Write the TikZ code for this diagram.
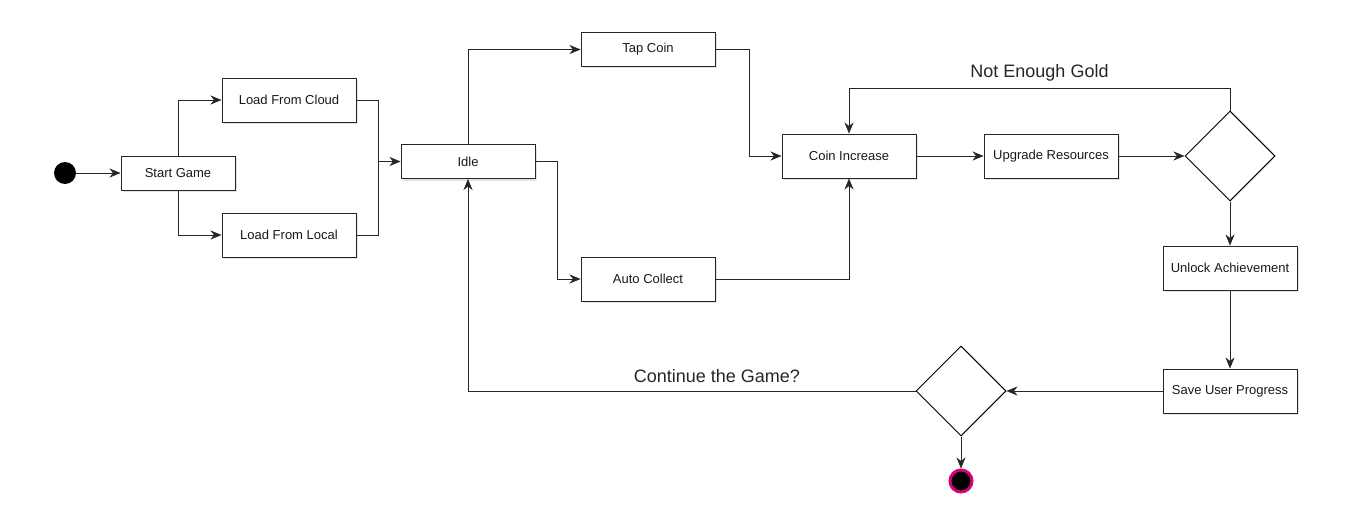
\documentclass[tikz,border=0pt]{standalone}
\usepackage{fontspec}
\setmainfont{Liberation Sans}
\usetikzlibrary{arrows.meta,shadows,shapes.geometric}
\definecolor{pinkb}{HTML}{D80073}
\begin{document}
\begin{tikzpicture}[x=1pt,y=-1pt,
  box/.style={draw=black!85, fill=white, line width=1pt, minimum width=134pt, minimum height=44pt, inner sep=0pt, font=\fontsize{13}{15}\selectfont, text=black!90, drop shadow={opacity=0.22, shadow xshift=2pt, shadow yshift=-2pt}},
  dia/.style={draw=black, fill=white, line width=1pt, diamond, minimum width=90pt, minimum height=90pt, inner sep=0pt},
  conn/.style={draw=black!85, line width=1pt, -{Stealth[length=11pt,width=9pt,inset=3.5pt,fill=black!85,line width=0.5pt]}},
  plain/.style={draw=black!85, line width=1pt},
  lbl/.style={font=\fontsize{18}{20}\selectfont, text=black!85}
]
\useasboundingbox (0,0) rectangle (1349,519);
\node[circle, fill=black, minimum size=22pt, inner sep=0pt] (start) at (65,173) {};
\node[box, minimum width=114pt, minimum height=34pt] (sg) at (178,173) {Start Game};
\node[box] (cloud) at (289,100) {Load From Cloud};
\node[box] (local) at (289,235) {Load From Local};
\node[box, minimum height=34pt] (idle) at (468,161.5) {Idle};
\node[box, minimum height=34pt] (tap) at (648,49.5) {Tap Coin};
\node[box] (auto) at (648,279) {Auto Collect};
\node[box] (coin) at (849,156) {Coin Increase};
\node[box] (upg) at (1051,156) {Upgrade Resources};
\node[dia] (d1) at (1230,156) {};
\node[box] (unlock) at (1230,268) {Unlock Achievement};
\node[box] (save) at (1230,391) {Save User Progress};
\node[dia] (d2) at (961,391) {};
\node[circle, fill=black, draw=pinkb, line width=3pt, minimum size=22pt, inner sep=0pt] (end) at (961,481) {};

\coordinate (j1) at (378,161.5);
\draw[conn] (start) -- (sg);
\draw[conn] (sg.north) |- (cloud.west);
\draw[conn] (sg.south) |- (local.west);
\draw[plain] (cloud.east) -| (j1);
\draw[plain] (local.east) -| (j1);
\draw[conn] (j1) -- (idle.west);
\draw[conn] (idle.north) |- (tap.west);
\draw[conn] (idle.east) -- ++(22,0) |- (auto.west);
\draw[conn] (tap.east) -- ++(34,0) |- (coin.west);
\draw[conn] (auto.east) -| (coin.south);
\draw[conn] (coin) -- (upg);
\draw[conn] (upg) -- (d1.west);
\draw[conn] (d1.north) -- ++(0,-22) -| (coin.north) node[pos=0.25, above=3pt, lbl] {Not Enough Gold};
\draw[conn] (d1.south) -- (unlock.north);
\draw[conn] (unlock) -- (save);
\draw[conn] (save) -- (d2.east);
\draw[conn] (d2.west) -| (idle.south) node[pos=0.222, above=4pt, lbl] {Continue the Game?};
\draw[conn] (d2.south) -- (end);
\end{tikzpicture}
\end{document}
